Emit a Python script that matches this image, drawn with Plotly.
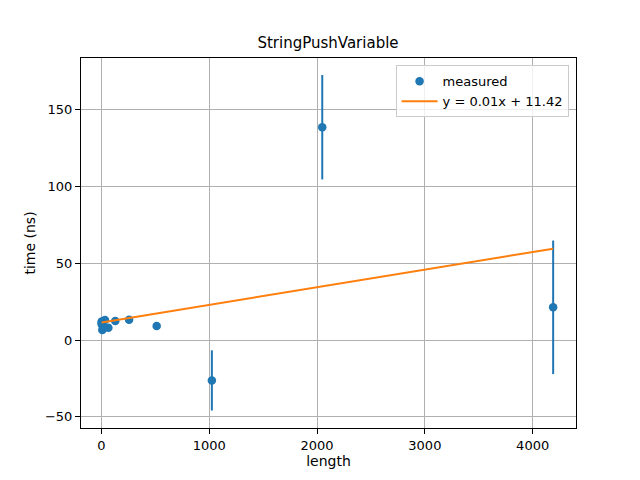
import numpy as np
import plotly.graph_objects as go

# measured timings
length = [1, 2, 4, 8, 16, 32, 64, 128, 256, 512, 1024, 2048, 4190]
time_ns = [11.0, 12.0, 10.0, 6.5, 7.5, 13.0, 8.0, 12.4, 13.2, 9.2, -26.3, 138.6, 21.3]
time_err = [1.5, 1.5, 1.5, 1.5, 1.5, 1.5, 1.5, 1.5, 1.5, 1.5, 19.6, 34.0, 43.5]

# linear fit shown in legend
fit_slope = 0.01148
fit_intercept = 11.42
fit_label = "y = 0.01x + 11.42"

x_ticks = [0, 1000, 2000, 3000, 4000]
y_ticks = [-50, 0, 50, 100, 150]

blue = "#1f77b4"
orange = "#ff7f0e"
font = "DejaVu Sans"

fit_x = np.array([min(length), max(length)])
fit_y = fit_slope * fit_x + fit_intercept

fig = go.Figure()

fig.add_trace(go.Scatter(
    x=length,
    y=time_ns,
    mode="markers",
    name="measured",
    marker=dict(color=blue, size=8.5),
    error_y=dict(type="data", array=time_err, color=blue, thickness=2, width=0),
))

fig.add_trace(go.Scatter(
    x=fit_x,
    y=fit_y,
    mode="lines",
    name=fit_label,
    line=dict(color=orange, width=2),
))

axis_style = dict(
    showline=True,
    linecolor="black",
    linewidth=1,
    mirror=True,
    ticks="outside",
    ticklen=5,
    tickcolor="black",
    showgrid=True,
    gridcolor="#b0b0b0",
    gridwidth=1,
    zeroline=False,
    tickfont=dict(family=font, size=13, color="black"),
    title_font=dict(family=font, size=14, color="black"),
)

fig.update_xaxes(axis_style, title_text="length", tickvals=x_ticks,
                 range=[-190, 4402], title_standoff=4)
fig.update_yaxes(axis_style, title_text="time (ns)", tickvals=y_ticks,
                 range=[-57.3, 183.7], title_standoff=6)

# page adds an 8px offset, so margins are shifted to line up the plot box
fig.update_layout(
    width=640,
    height=480,
    margin=dict(l=73, r=72, t=50, b=60),
    paper_bgcolor="white",
    plot_bgcolor="white",
    title=dict(text="StringPushVariable", x=0.5, xanchor="center", y=0.927,
               yanchor="middle", font=dict(family=font, size=15, color="black")),
    showlegend=True,
    legend=dict(
        x=0.985, y=0.98, xanchor="right", yanchor="top",
        bgcolor="rgba(255,255,255,0.8)",
        bordercolor="#cccccc",
        borderwidth=1,
        tracegroupgap=0,
        itemwidth=36,
        font=dict(family=font, size=13, color="black"),
    ),
)

fig.write_html("out.html")
